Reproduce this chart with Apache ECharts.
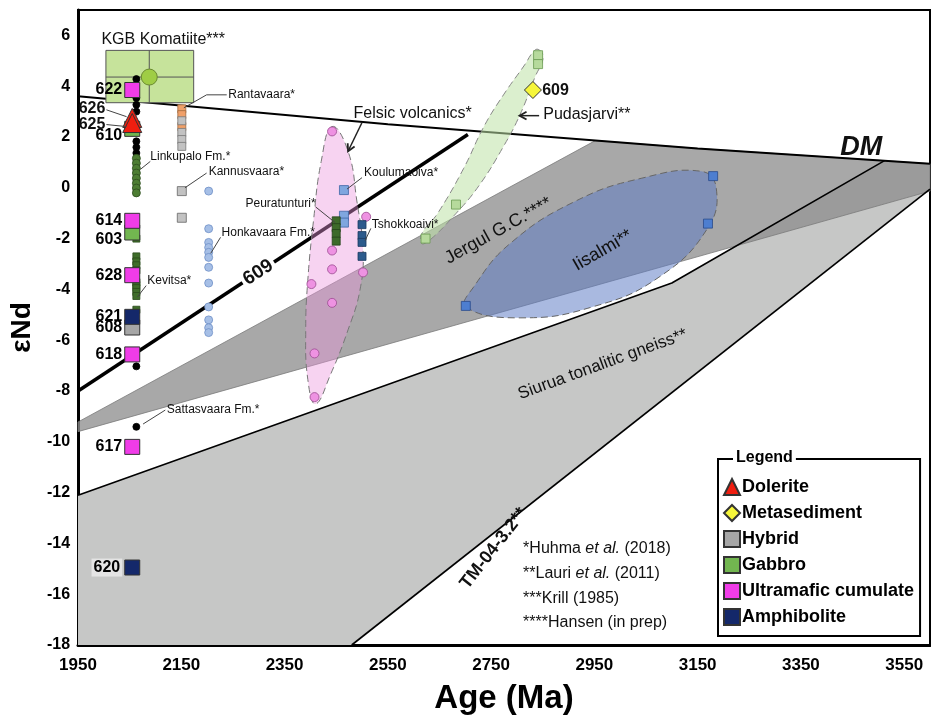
<!DOCTYPE html>
<html><head><meta charset="utf-8">
<script src="https://cdn.jsdelivr.net/npm/echarts/dist/echarts.min.js"></script>
<style>html,body{margin:0;padding:0;background:#fff}#c{width:931px;height:720px}</style>
</head><body><div id="c"></div>
<script>
// ---------- data (age in Ma, epsilon Nd) ----------
const dmAge = [1950, 2550, 3150, 3600];
const dmEps = [3.6, 2.5, 1.55, 0.95];
const line609Age = [1950, 2705];
const line609Eps = [-8.0, 2.1];
const siuruaTopAge = [1950, 3100, 3512];
const siuruaTopEps = [-12.1, -3.75, 1.07];
const tmAge = [2480, 3600];
const tmEps = [-18, -0.05];
const siuruaAge = [1950, 3100, 3512, 3600, 3600, 2480, 1950];
const siuruaEps = [-12.1, -3.75, 1.07, 0.95, -0.05, -18, -18];
const jergulAge = [1950, 2952, 3150, 3600, 3600, 1950];
const jergulEps = [-9.22, 1.86, 1.55, 0.95, -0.13, -9.6];

const felsicEnvAge = [2442, 2473, 2490, 2502, 2496, 2473, 2439, 2410, 2395, 2391, 2395, 2406, 2421];
const felsicEnvEps = [2.41, 1.44, -0.52, -2.47, -4.03, -5.59, -7.35, -8.51, -7.54, -5.59, -3.64, -1.30, 1.04];
const pudasEnvAge = [2841, 2851, 2835, 2806, 2774, 2726, 2678, 2630, 2615, 2617, 2646, 2697, 2736, 2774, 2816, 2831];
const pudasEnvEps = [5.45, 5.14, 4.36, 2.88, 1.63, 0.07, -1.10, -2.08, -2.19, -1.76, -1.02, 0.77, 2.41, 3.66, 4.87, 5.34];
const iisalmiEnvAge = [2701, 2806, 2946, 3075, 3170, 3186, 3157, 3042, 2914, 2787, 2716];
const iisalmiEnvEps = [-4.69, -5.12, -4.69, -3.52, -1.57, 0.0, 0.65, 0.38, -0.52, -2.19, -3.91];

// KGB komatiite: centre and error box
const kgbAge = 2088, kgbEps = 4.36;
const kgbAgeRange = [2004, 2174];
const kgbEpsRange = [3.35, 5.41];

// literature data
const blackAge = 2063;
const blackEps = [4.28, 3.54, 3.27, 3.0, 1.83, 1.6, 1.37, -7.03, -9.41];
const linkupaloEps = [1.16, 0.97, 0.77, 0.58, 0.38, 0.18, -0.01, -0.2];
const kevitsaEps = [-2.0, -2.7, -2.9, -3.05, -3.25, -3.72, -3.83, -3.95, -4.1, -4.26, -4.8];
const rantaAge = 2151;
const rantaOrangeEps = [3.11, 2.88, 2.41];
const rantaGrayEps = [2.64, 2.18, 1.9, 1.63];
const kannusEps = [-0.13, -1.18];
const honkaAge = 2203;
const honkaEps = [-0.13, -1.61, -2.15, -2.35, -2.54, -2.74, -3.13, -3.75, -4.69, -5.2, -5.51, -5.7];
const felsicAge = [2442, 2508, 2442, 2442, 2502, 2402, 2442, 2408, 2408];
const felsicEps = [2.22, -1.14, -2.47, -3.21, -3.33, -3.79, -4.53, -6.52, -8.24];
const koulAge = 2465, koulEps = [-0.09, -1.1, -1.37];
const peuraAge = 2450, peuraEps = [-1.3, -1.57, -1.8, -2.1];
const tshokAge = 2500, tshokEps = [-1.45, -1.88, -2.15, -2.7];
const pudasAge = [2841, 2841, 2682, 2623];
const pudasEps = [5.22, 4.87, -0.66, -2.0];
const iisalmiAge = [3180, 3170, 2701];
const iisalmiEps = [0.46, -1.41, -4.65];

// this study samples
const sampleAge = 2055;
const ultraNames = ['622', '614', '628', '618', '617'];
const ultraEps = [3.85, -1.3, -3.44, -6.56, -10.2];
const gabbroNames = ['610', '603'];
const gabbroEps = [2.32, -1.76];
const doleriteNames = ['626', '625'];
const doleriteEps = [2.75, 2.55];
const hybridNames = ['608'];
const hybridEps = [-5.5];
const amphNames = ['621', '620'];
const amphEps = [-5.08, -14.95];
const metasedNames = ['609'];
const metasedAge = [2831];
const metasedEps = [3.85];

const xTicks = [1950, 2150, 2350, 2550, 2750, 2950, 3150, 3350, 3550];

// ---------- helpers ----------
const NARROW = "'Liberation Sans Narrow','Arial Narrow','Liberation Sans',Arial,sans-serif";
const SANS = "'Liberation Sans',Arial,Helvetica,sans-serif";
const pairs = (a, e) => (Array.isArray(a) ? a : e.map(() => a)).map((x, i) => [x, e[i]]);

function polygon(name, ages, eps, style, z, smooth) {
  return {
    type: 'custom', name, z, silent: true, data: [[1950, -18]], encode: {x: 0, y: 1},
    renderItem: (p, api) => ({
      type: 'polygon',
      shape: {points: ages.map((a, i) => api.coord([a, eps[i]])), smooth: smooth || 0},
      style
    })
  };
}
function line(name, ages, eps, color, width, z) {
  return {type: 'line', name, z, silent: true, symbol: 'none', data: pairs(ages, eps),
    lineStyle: {color, width}, animation: false};
}
function dots(name, ages, eps, symbol, size, color, border, z) {
  return {type: 'scatter', name, z, symbol, symbolSize: size, data: pairs(ages, eps),
    itemStyle: {color, borderColor: border, borderWidth: 0.8, opacity: 1}, silent: true};
}
// sample labels lying on the grey field get a pale backing, as in the original
const shadedLabels = ['620'];
function samples(name, names, ages, eps, symbol, size, color, z, labelOpts) {
  return {type: 'scatter', name, z, symbol, symbolSize: size,
    data: pairs(ages, eps).map((v, i) => {
      const d = {value: v, name: names[i]};
      if (shadedLabels.includes(names[i])) d.label = {backgroundColor: '#e4e4e4', padding: [1, 2]};
      return d;
    }),
    itemStyle: {color, borderColor: '#333', borderWidth: 1, opacity: 1},
    label: Object.assign({show: true, position: 'left', distance: 2, formatter: '{b}',
      fontFamily: NARROW, fontWeight: 'bold', fontSize: 16, color: '#000'}, labelOpts || {}),
    silent: true};
}

// annotations (text anchored in data units)
const notes = [
  {t: 'KGB Komatiite***', a: 2115, e: 5.84, s: 16, al: 'center'},
  {t: 'Rantavaara*', a: 2241, e: 3.66, s: 12},
  {t: 'Linkupalo Fm.*', a: 2090, e: 1.24, s: 12},
  {t: 'Kannusvaara*', a: 2203, e: 0.65, s: 12},
  {t: 'Honkavaara Fm.*', a: 2228, e: -1.76, s: 12},
  {t: 'Kevitsa*', a: 2084, e: -3.64, s: 12},
  {t: 'Sattasvaara Fm.*', a: 2122, e: -8.75, s: 12},
  {t: 'Peuratunturi*', a: 2410, e: -0.63, s: 12, al: 'right'},
  {t: 'Koulumaoiva*', a: 2504, e: 0.58, s: 12},
  {t: 'Tshokkoaivi*', a: 2519, e: -1.45, s: 12},
  {t: 'Felsic volcanics*', a: 2598, e: 2.92, s: 16, al: 'center'},
  {t: 'Pudasjarvi**', a: 2851, e: 2.88, s: 16},
  {t: '609', a: 2849, e: 3.82, s: 16, w: 'bold', f: NARROW},
  {t: 'Jergul G.C.****', a: 2764, e: -1.69, s: 18, al: 'center', r: 29},
  {t: 'Iisalmi**', a: 2966, e: -2.47, s: 18, al: 'center', r: 30},
  {t: 'Siurua tonalitic gneiss**', a: 2966, e: -6.95, s: 17, al: 'center', r: 20},
  {t: 'TM-04-3.2**', a: 2755, e: -14.2, s: 18, w: 'bold', al: 'center', r: 52},
  {t: 'DM', a: 3467, e: 1.59, s: 27, w: 'bold', st: 'italic', al: 'center', f: SANS},
  {t: '609', a: 2299, e: -3.33, s: 19, w: 'bold', al: 'center', r: 33, bg: '#fff', f: NARROW},
  {t: '626', a: 2003, e: 3.1, s: 16, w: 'bold', al: 'right', f: NARROW},
  {t: '625', a: 2003, e: 2.5, s: 16, w: 'bold', al: 'right', f: NARROW},
  {t: '*Huhma {i|et al.} (2018)', a: 2812, e: -14.2, s: 16},
  {t: '**Lauri {i|et al.} (2011)', a: 2812, e: -15.2, s: 16},
  {t: '***Krill (1985)', a: 2812, e: -16.16, s: 16},
  {t: '****Hansen (in prep)', a: 2812, e: -17.1, s: 16}
];
const leaders = [
  [[2155, 3.15], [2199, 3.66], [2238, 3.66]],
  [[2071, 0.73], [2090, 1.04]],
  [[2157, 0.0], [2199, 0.58]],
  [[2207, -2.58], [2226, -1.95]],
  [[2065, -4.3], [2082, -3.85]],
  [[2076, -9.3], [2119, -8.75]],
  [[2410, -0.75], [2448, -1.37]],
  [[2471, -0.05], [2500, 0.4]],
  [[2506, -2.08], [2517, -1.6]],
  [[2005, 3.07], [2044, 2.8]],
  [[2005, 2.49], [2044, 2.41]]
];
const arrows = [
  [[2500, 2.57], [2473, 1.44]],
  [[2843, 2.84], [2805, 2.84]]
];

const chart = echarts.init(document.getElementById('c'));
const option = {
  animation: false,
  backgroundColor: '#fff',
  grid: {left: 51, right: 1, top: 10, bottom: 59, show: true, borderColor: '#000', borderWidth: 2, backgroundColor: 'transparent'},
  xAxis: {
    type: 'value', min: 1950, max: 3600, interval: 200,
    name: 'Age (Ma)', nameLocation: 'middle', nameGap: 37,
    nameTextStyle: {fontFamily: NARROW, fontWeight: 'bold', fontSize: 33, color: '#000'},
    axisLine: {show: true, onZero: false, lineStyle: {color: '#000', width: 3}},
    axisTick: {show: false}, splitLine: {show: false},
    axisLabel: {showMaxLabel: false, margin: 12, fontFamily: NARROW, fontWeight: 'bold', fontSize: 17, color: '#000',
      formatter: v => xTicks.includes(v) ? String(v) : ''}
  },
  yAxis: {
    type: 'value', min: -18, max: 7, interval: 2,
    name: 'εNd', nameLocation: 'middle', nameGap: 27, nameRotate: 90,
    nameTextStyle: {fontFamily: SANS, fontWeight: 'bold', fontSize: 28, color: '#000'},
    axisLine: {show: true, onZero: false, lineStyle: {color: '#000', width: 3}},
    axisTick: {show: false}, splitLine: {show: false},
    axisLabel: {showMaxLabel: false, margin: 8, fontFamily: NARROW, fontWeight: 'bold', fontSize: 16, color: '#000'}
  },
  legend: {
    data: ['Dolerite', 'Metasediment', 'Hybrid', 'Gabbro', 'Ultramafic cumulate', 'Amphibolite'],
    orient: 'vertical', left: 718, top: 459, selectedMode: false,
    padding: [19, 6, 10, 5], itemGap: 8, itemWidth: 16, itemHeight: 16,
    borderColor: '#000', borderWidth: 2, backgroundColor: '#fff',
    textStyle: {fontFamily: NARROW, fontWeight: 'bold', fontSize: 18, color: '#000', padding: [0, 0, 0, -3]}
  },
  graphic: [{type: 'text', left: 733, top: 450, z: 100,
    style: {text: 'Legend', font: "bold 16px " + NARROW, fill: '#000', backgroundColor: '#fff', padding: [0, 3]}}],
  series: [
    polygon('siurua', siuruaAge, siuruaEps, {fill: '#c6c7c6'}, 1),
    polygon('jergul', jergulAge, jergulEps, {fill: 'rgba(142,142,142,0.77)', stroke: '#7a7a7a', lineWidth: 0.8}, 2),
    line('siuruaTop', siuruaTopAge, siuruaTopEps, '#000', 1.6, 3),
    line('tm', tmAge, tmEps, '#000', 1.6, 3),
    line('l609', line609Age, line609Eps, '#000', 3.5, 3),
    line('dm', dmAge, dmEps, '#000', 2, 3),
    polygon('felsicEnv', felsicEnvAge, felsicEnvEps, {fill: 'rgba(236,150,222,0.42)', stroke: '#777', lineWidth: 1, lineDash: [7, 4]}, 4, 0.45),
    polygon('pudasEnv', pudasEnvAge, pudasEnvEps, {fill: 'rgba(190,225,165,0.55)', stroke: '#888', lineWidth: 1, lineDash: [7, 4]}, 4, 0.45),
    polygon('iisalmiEnv', iisalmiEnvAge, iisalmiEnvEps, {fill: 'rgba(92,123,196,0.53)', stroke: '#666', lineWidth: 1, lineDash: [7, 4]}, 4, 0.45),
    {
      type: 'custom', name: 'kgb', z: 5, silent: true, data: [[kgbAge, kgbEps]], encode: {x: 0, y: 1},
      renderItem: (p, api) => {
        const tl = api.coord([kgbAgeRange[0], kgbEpsRange[1]]);
        const br = api.coord([kgbAgeRange[1], kgbEpsRange[0]]);
        const c = api.coord([kgbAge, kgbEps]);
        return {type: 'group', children: [
          {type: 'rect', shape: {x: tl[0], y: tl[1], width: br[0] - tl[0], height: br[1] - tl[1]},
            style: {fill: '#c6e39b', stroke: '#555', lineWidth: 1}},
          {type: 'line', shape: {x1: c[0], y1: tl[1], x2: c[0], y2: br[1]}, style: {stroke: '#555', lineWidth: 1}},
          {type: 'line', shape: {x1: tl[0], y1: c[1], x2: br[0], y2: c[1]}, style: {stroke: '#555', lineWidth: 1}},
          {type: 'circle', shape: {cx: c[0], cy: c[1], r: 8}, style: {fill: '#9fcd45', stroke: '#6a8a30', lineWidth: 1}}
        ]};
      }
    },
    dots('black', blackAge, blackEps, 'circle', 7, '#000', '#000', 6),
    dots('linkupalo', blackAge, linkupaloEps, 'circle', 8, '#4d7d33', '#2d4d1e', 6),
    dots('kevitsa', blackAge, kevitsaEps, 'rect', 7, '#3f6d2a', '#2a4a1a', 6),
    dots('rantaO', rantaAge, rantaOrangeEps, 'rect', 8, '#f0a069', '#a06a40', 6),
    dots('rantaG', rantaAge, rantaGrayEps, 'rect', 8, '#c2c2c2', '#777', 6),
    dots('kannus', rantaAge, kannusEps, 'rect', 9, '#c2c2c2', '#666', 6),
    dots('honka', honkaAge, honkaEps, 'circle', 8, '#a6bfe6', '#6f8fc6', 6),
    dots('felsic', felsicAge, felsicEps, 'circle', 9, '#ee92e2', '#9a4a90', 6),
    dots('koul', koulAge, koulEps, 'rect', 9, '#7fa6df', '#3f66a6', 6),
    dots('peura', peuraAge, peuraEps, 'rect', 8, '#3d6a2a', '#25421a', 6),
    dots('tshok', tshokAge, tshokEps, 'rect', 8, '#2c5a8c', '#1a3a60', 6),
    dots('pudas', pudasAge, pudasEps, 'rect', 9, '#b6da9c', '#6a9a50', 6),
    dots('iisalmi', iisalmiAge, iisalmiEps, 'rect', 9, '#4d7ed0', '#2a4a8a', 6),
    samples('Gabbro', gabbroNames, sampleAge, gabbroEps, 'rect', 15, '#72b650', 7, {offset: [0, 7]}),
    samples('Hybrid', hybridNames, sampleAge, hybridEps, 'rect', 15, '#a6a6a6', 7),
    samples('Amphibolite', amphNames, sampleAge, amphEps, 'rect', 15, '#14286a', 7),
    samples('Dolerite', doleriteNames, sampleAge, doleriteEps, 'triangle', 19, '#f01e10', 7, {show: false}),
    samples('Ultramafic cumulate', ultraNames, sampleAge, ultraEps, 'rect', 15, '#f03ce8', 8),
    samples('Metasediment', metasedNames, metasedAge, metasedEps, 'diamond', 17, '#f6f63a', 8, {show: false}),
    {
      type: 'custom', name: 'leaders', z: 9, silent: true, data: leaders.map((l, i) => [1950, -18, i]), encode: {x: 0, y: 1},
      renderItem: (p, api) => ({type: 'polyline', shape: {points: leaders[p.dataIndex].map(q => api.coord(q))},
        style: {stroke: '#444', lineWidth: 1, fill: null}})
    },
    {
      type: 'custom', name: 'arrows', z: 9, silent: true, data: arrows.map((l, i) => [1950, -18, i]), encode: {x: 0, y: 1},
      renderItem: (p, api) => {
        const a = api.coord(arrows[p.dataIndex][0]), b = api.coord(arrows[p.dataIndex][1]);
        const ang = Math.atan2(b[1] - a[1], b[0] - a[0]), L = 8, W = 0.5;
        const h1 = [b[0] - L * Math.cos(ang - W), b[1] - L * Math.sin(ang - W)];
        const h2 = [b[0] - L * Math.cos(ang + W), b[1] - L * Math.sin(ang + W)];
        return {type: 'group', children: [
          {type: 'line', shape: {x1: a[0], y1: a[1], x2: b[0], y2: b[1]}, style: {stroke: '#222', lineWidth: 1.5}},
          {type: 'polyline', shape: {points: [h1, b, h2]}, style: {stroke: '#222', lineWidth: 1.8, fill: null}}
        ]};
      }
    },
    {
      type: 'custom', name: 'notes', z: 10, silent: true, data: notes.map((n, i) => [1950, -18, i]), encode: {x: 0, y: 1},
      renderItem: (p, api) => {
        const n = notes[p.dataIndex];
        const c = api.coord([n.a, n.e]);
        return {type: 'text', x: c[0], y: c[1], rotation: (n.r || 0) * Math.PI / 180,
          style: {text: n.t, fill: '#111', align: n.al || 'left', verticalAlign: 'middle',
            fontFamily: n.f || SANS, fontSize: n.s, fontWeight: n.w || 'normal', fontStyle: n.st || 'normal',
            backgroundColor: n.bg || null, padding: n.bg ? [0, 3] : 0,
            rich: {i: {fontStyle: 'italic', fontFamily: SANS, fontSize: n.s}}}};
      }
    }
  ]
};
chart.setOption(option);
</script></body></html>
